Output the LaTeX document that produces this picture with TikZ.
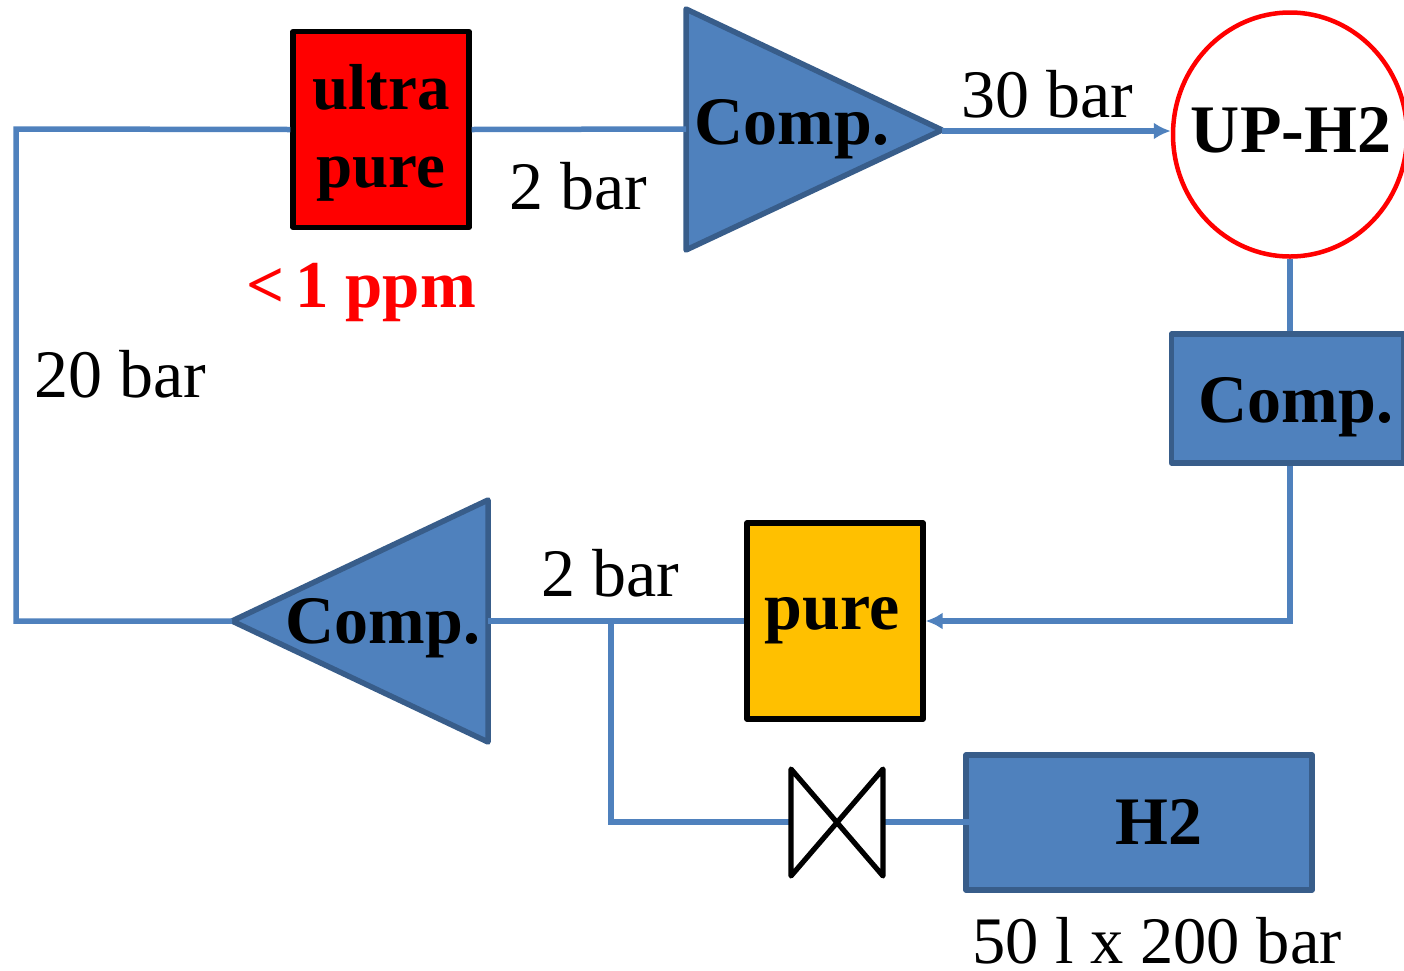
\documentclass[tikz,border=0pt]{standalone}
\usepackage{fontspec}
\setmainfont{Liberation Serif}
\usetikzlibrary{arrows.meta,shapes.geometric}
\definecolor{pipe}{HTML}{4F81BD}
\definecolor{edge}{HTML}{385D8A}
\definecolor{amber}{HTML}{FFC000}
\tikzset{
  x=1pt,y=-1pt,
  pipeline/.style={draw=pipe,line width=5.5pt},
  flow/.style={pipeline,-{Latex[length=17pt,width=17pt]}},
  bluefill/.style={fill=pipe,draw=edge,line width=5.5pt,line join=round},
  blackbox/.style={draw=black,line width=5.2pt,line join=round},
  lab/.style={inner sep=0pt,font=\fontsize{68}{74}\selectfont},
  blab/.style={inner sep=0pt,align=center,font=\fontsize{68}{74}\selectfont\bfseries},
}
\begin{document}
\begin{tikzpicture}
\useasboundingbox (0,0) rectangle (1404,970);
% shapes
\coordinate (tl) at (16,129);
\coordinate (bl) at (16,621);
\coordinate (br) at (1290,621);
\coordinate (junc) at (611,621);
\coordinate (vc) at (611,822);
\coordinate (h2in) at (1010,822);
\node[blackbox,fill=red,minimum width=176pt,minimum height=196pt,inner sep=0pt] (ultra) at (381,129.5) {};
\node[blackbox,fill=amber,minimum width=176pt,minimum height=196pt,inner sep=0pt] (pure) at (835,621) {};
\node[bluefill,minimum width=232pt,minimum height=129pt,inner sep=0pt] (compr) at (1287.5,398.5) {};
\node[bluefill,minimum width=346pt,minimum height=135pt,inner sep=0pt] (h2box) at (1139,822.5) {};
\node[draw=red,line width=4.5pt,fill=white,ellipse,minimum width=234pt,minimum height=244pt,inner sep=0pt] (up) at (1290,134.5) {};
\draw[bluefill] (686,9) -- (942,130) -- (686,250) -- cycle;
\coordinate (comp1in) at (686,129);
\coordinate (comp1out) at (942,131);
\draw[bluefill] (488,500) -- (232,621) -- (488,742) -- cycle;
\coordinate (comp2r) at (488,621);
\coordinate (comp2l) at (232,621);
\coordinate (vl) at (791,822);
\coordinate (vr) at (883,822);
% connectors
\draw[pipeline] (ultra.west) -- (tl) -- (bl) -- (comp2l);
\draw[pipeline] (ultra.east) -- (comp1in);
\draw[flow] (comp1out) -- (comp1out -| up.west);
\draw[pipeline] (up.south) -- (compr.north -| up.south);
\draw[flow] (compr.south -| up.south) -- (br) -- (pure.east);
\draw[pipeline] (pure.west) -- (comp2r);
\draw[pipeline] (junc) -- (vc) -- (vl);
\draw[pipeline] (vr) -- (h2in);
\draw[blackbox,fill=white,line cap=round] (791,769) -- (883,876) -- (883,769) -- (791,876) -- cycle;
% labels
\node[blab,font=\fontsize{65}{74}\selectfont\bfseries] (t1) at (381,133) {ultra\\[4pt]pure};
\node[blab] (t2) at (792,129) {Comp.};
\node[blab] (t3) at (1291,130) {UP-H2};
\node[blab] (t4) at (1296,407) {Comp.};
\node[blab] (t5) at (383,628) {Comp.};
\node[blab] (t6) at (832,621) {pure};
\node[blab] (t7) at (1159,822) {H2};
\node[blab,text=red,font=\fontsize{67}{74}\selectfont\bfseries] (t8) at (361,293) {<\,1 ppm};
\node[lab] (l1) at (578,186) {2 bar};
\node[lab] (l2) at (1047,94) {30 bar};
\node[lab] (l3) at (120,374) {20 bar};
\node[lab] (l4) at (610,573) {2 bar};
\node[lab,font=\fontsize{66.5}{72}\selectfont,anchor=base] (l5) at (1157,963) {50 l x 200 bar};
\end{tikzpicture}
\end{document}
